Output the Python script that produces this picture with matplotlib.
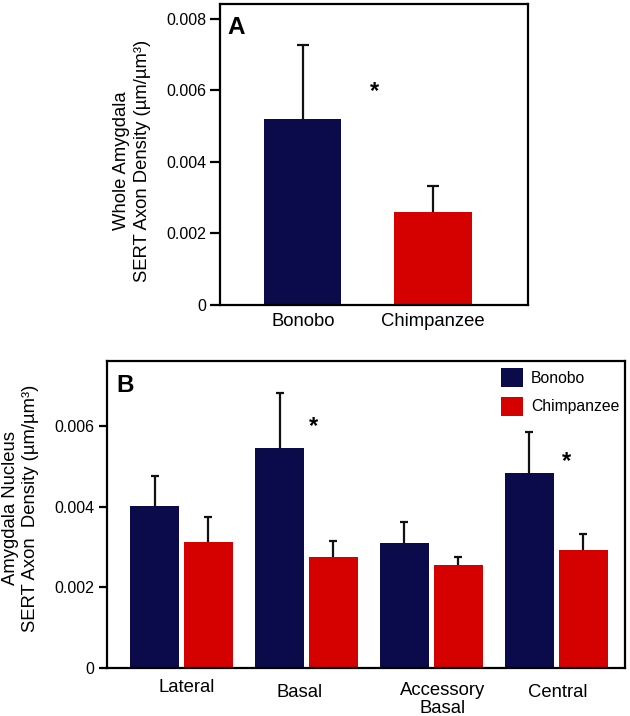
import matplotlib
matplotlib.use("Agg")
import matplotlib.pyplot as plt
import matplotlib.transforms as mtransforms
import numpy as np

plt.rcParams['font.family'] = ['Liberation Sans', 'DejaVu Sans']

# ---------------- data ----------------
species = ["Bonobo", "Chimpanzee"]
whole_mean = [0.0052, 0.0026]
whole_err = [0.00206, 0.00073]

nuclei = ["Lateral", "Basal", "Accessory\nBasal", "Central"]
bonobo_mean = [0.00401, 0.00544, 0.00309, 0.00482]
bonobo_err = [0.00075, 0.00137, 0.00054, 0.00102]
chimp_mean = [0.00312, 0.00275, 0.00255, 0.00292]
chimp_err = [0.00063, 0.00039, 0.00021, 0.00040]

ytick_vals_a = [0, 0.002, 0.004, 0.006, 0.008]
ytick_labels_a = ["0", "0.002", "0.004", "0.006", "0.008"]
ytick_vals_b = [0, 0.002, 0.004, 0.006]
ytick_labels_b = ["0", "0.002", "0.004", "0.006"]

NAVY = "#0b0a4b"
RED = "#d50000"
W, H = 630, 716

fig = plt.figure(figsize=(W / 100, H / 100), dpi=100)

def px_axes(l, t, r, b):
    return fig.add_axes([l / W, 1 - b / H, (r - l) / W, (b - t) / H])

def style(ax, ticklen):
    for s in ax.spines.values():
        s.set_linewidth(1.6)
        s.set_color("black")
    ax.tick_params(axis="y", direction="out", length=ticklen, width=1.6,
                   labelsize=11.5, pad=3)
    ax.tick_params(axis="x", length=0, labelsize=13.3, pad=6)

def upper_err(ax, x, y, e, cap):
    _, caps, _ = ax.errorbar(x, y, yerr=[np.zeros(len(x)), e], fmt="none",
                             ecolor="#111111", elinewidth=1.6, capsize=cap,
                             capthick=1.6, zorder=0.5)
    caps[0].remove()

# ---------------- panel A ----------------
axA = px_axes(220, 3.5, 528.3, 304.7)
xa = np.arange(len(species))
axA.bar(xa, whole_mean, width=0.593, color=[NAVY, RED], zorder=1)
upper_err(axA, xa, whole_mean, whole_err, 4)
axA.set_xlim(-0.636, 1.732)
axA.set_ylim(0, 0.008434)
axA.set_yticks(ytick_vals_a)
axA.set_yticklabels(ytick_labels_a)
axA.set_xticks(xa)
axA.set_xticklabels(species)
style(axA, 7)
axA.text(0.025, 0.958, "A", transform=axA.transAxes, fontsize=17.5,
         fontweight="bold", ha="left", va="top")
axA.text(0.55, 0.00598, "*", ha="center", va="center", fontsize=17,
         fontweight="bold")
fig.text(132 / W, 1 - 161 / H, "Whole Amygdala\nSERT Axon Density (µm/µm³)",
         rotation=90, ha="center", va="center", fontsize=13.3, linespacing=1.25)

# ---------------- panel B ----------------
axB = px_axes(107, 360.5, 625, 668)
xb = np.arange(len(nuclei))
bw = 0.397
off = 0.2155
axB.bar(xb - off, bonobo_mean, width=bw, color=NAVY, label="Bonobo", zorder=1)
axB.bar(xb + off, chimp_mean, width=bw, color=RED, label="Chimpanzee", zorder=1)
upper_err(axB, xb - off, bonobo_mean, bonobo_err, 3)
upper_err(axB, xb + off, chimp_mean, chimp_err, 3)
axB.set_xlim(-0.596, 3.549)
axB.set_ylim(0, 0.00762)
axB.set_yticks(ytick_vals_b)
axB.set_yticklabels(ytick_labels_b)
axB.set_xticks([])
style(axB, 6)

# staggered category labels (layout offsets only)
lab_dx = [0.042, -0.053, 0.09, 0.014]
lab_base_px = [692, 697, 713, 697]
trans = mtransforms.blended_transform_factory(axB.transData, fig.transFigure)
for i, name in enumerate(nuclei):
    axB.text(i + lab_dx[i], 1 - lab_base_px[i] / H, name, transform=trans,
             ha="center", va="baseline", fontsize=13.3, linespacing=1.1,
             multialignment="center")

axB.text(0.018, 0.955, "B", transform=axB.transAxes, fontsize=17.5,
         fontweight="bold", ha="left", va="top")
axB.text(1.0525, 0.00598, "*", ha="center", va="center", fontsize=17,
         fontweight="bold")
axB.text(3.082, 0.00511, "*", ha="center", va="center", fontsize=17,
         fontweight="bold")

leg = axB.legend(loc="upper left", bbox_to_anchor=(501 / W, 1 - 368 / H),
                 bbox_transform=fig.transFigure, frameon=False, fontsize=11.3,
                 handlelength=1.4, handleheight=1.5, handletextpad=0.5,
                 labelspacing=0.6, borderpad=0, borderaxespad=0)

fig.text(20.5 / W, 1 - 508 / H, "Amygdala Nucleus\nSERT Axon  Density (µm/µm³)",
         rotation=90, ha="center", va="center", fontsize=13.3, linespacing=1.25)

fig.savefig("out.png", dpi=100)
